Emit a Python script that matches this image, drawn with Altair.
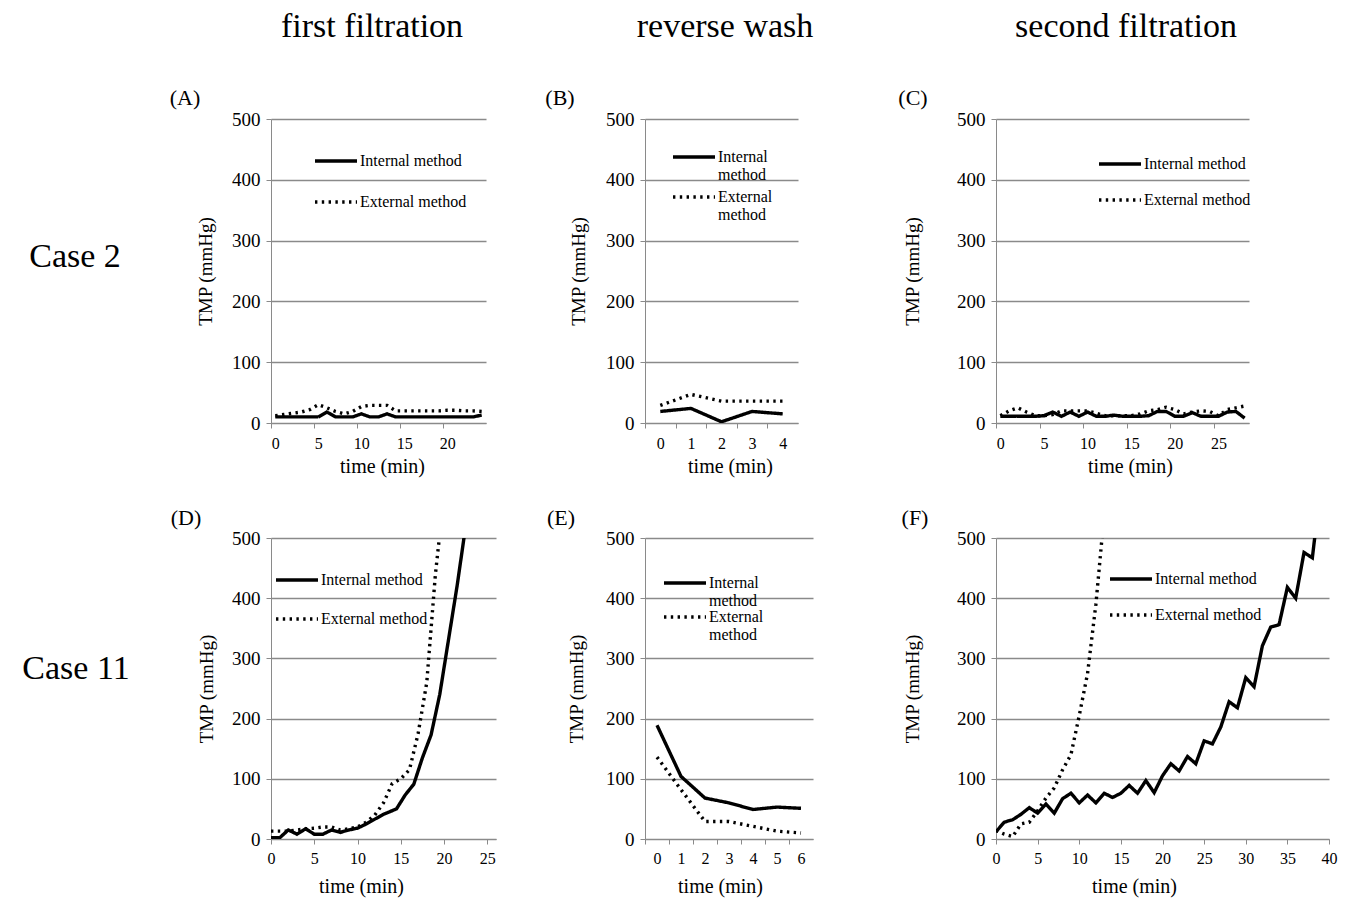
import altair as alt
import pandas as pd

FONT = "Liberation Serif"
GRID = "#8a8a8a"

# ---------------- data ----------------
# Case 2, first filtration (minutes 0..24)
a_t = list(range(25))
a_int = [10, 10, 10, 10, 10, 10, 18, 10, 10, 10, 15, 10, 10, 15, 10, 10, 10, 10, 10, 10, 10, 10, 10, 10, 13]
a_ext = [12, 14, 16, 18, 22, 30, 25, 19, 15, 19, 27, 29, 29, 29, 20, 20, 20, 20, 20, 20, 21, 21, 20, 20, 19]

# Case 2, reverse wash (minutes 0..4)
b_t = [0, 1, 2, 3, 4]
b_int = [19, 24, 2, 19, 15]
b_ext = [29, 47, 36, 36, 36]

# Case 2, second filtration (minutes 0..28)
c_t = list(range(29))
c_int = [11, 11, 11, 11, 11, 12, 18, 11, 18, 11, 18, 11, 11, 13, 11, 11, 11, 12, 19, 19, 11, 11, 17, 11, 11, 11, 18, 19, 8]
c_ext = [12, 20, 25, 18, 12, 12, 14, 20, 20, 20, 20, 16, 12, 12, 12, 12, 15, 20, 22, 26, 22, 15, 18, 20, 19, 12, 22, 25, 28]

# Case 11, first filtration
d_int_t = [0, 1, 2, 3, 4, 5, 6, 7, 8, 9, 10, 11, 12, 13, 14.5, 15.5, 16.5, 17.5, 18.5, 19.5, 20.5, 21.5, 22.5]
d_int = [2, 2, 15, 8, 17, 8, 8, 15, 11, 15, 18, 25, 33, 41, 50, 73, 91, 135, 173, 240, 330, 420, 520]
d_ext_t = [0, 1, 2, 3, 4, 5, 6, 7, 8, 9, 10, 11, 12, 13, 14, 15, 16, 17, 18, 19, 19.4]
d_ext = [13, 13, 13, 15, 17, 18, 20, 20, 15, 17, 20, 28, 40, 60, 92, 100, 115, 175, 260, 440, 493]

# Case 11, reverse wash (minutes 0..6)
e_t = [0, 1, 2, 3, 4, 5, 6]
e_int = [189, 104, 68, 60, 49, 53, 51]
e_ext = [136, 82, 29, 29, 21, 13, 10]

# Case 11, second filtration
f_int_t = list(range(40))
f_int = [12, 28, 32, 41, 52, 43, 58, 43, 67, 76, 60, 73, 60, 76, 69, 76, 89, 76, 97, 77,
         105, 125, 113, 137, 125, 163, 158, 186, 228, 218, 268, 253, 321, 352, 356, 418, 400, 476, 467, 585]
f_ext_t = list(range(14))
f_ext = [14, 8, 4, 25, 28, 47, 68, 85, 115, 140, 205, 275, 390, 540]

SERIES = ["Internal method", "External method"]
Y_TICKS = [0, 100, 200, 300, 400, 500]


def frame(t_int, v_int, t_ext, v_ext):
    rows = [{"t": t, "v": v, "method": SERIES[0]} for t, v in zip(t_int, v_int)]
    rows += [{"t": t, "v": v, "method": SERIES[1]} for t, v in zip(t_ext, v_ext)]
    return pd.DataFrame(rows)


def text_layer(txt, x, y, size, align="center"):
    return alt.Chart(pd.DataFrame({"txt": [txt]})).mark_text(
        font=FONT, fontSize=size, align=align, baseline="middle", color="black"
    ).encode(text="txt:N", x=alt.value(x), y=alt.value(y))


def panel(df, xdom, plot_w, chart_w, height, xvals, hide_above, cat_w,
          xtitle_x, xtitle_y, lab_pad, ytitle_x, leg_x, leg_y, leg_pad, wrap, notes):
    xaxis = dict(
        values=xvals, grid=False, title="time (min)", titleFont=FONT, titleFontSize=20,
        titleFontWeight="normal", titleColor="black", titleX=xtitle_x, titleY=xtitle_y,
        titleBaseline="middle", labelFont=FONT, labelFontSize=16, labelColor="black",
        domainColor=GRID, tickColor=GRID, tickSize=5, labelPadding=lab_pad, labelFlush=False,
        labelOverlap=False,
    )
    if hide_above is not None:
        xaxis["labelExpr"] = f"datum.value > {hide_above} ? '' : datum.label"
    if cat_w:
        xaxis["tickOffset"] = -cat_w / 2
        xaxis["labelOffset"] = cat_w / 2
    leg = dict(
        orient="none", legendX=leg_x, legendY=leg_y, title=None,
        symbolType="M-6,0H1", symbolSize=144, symbolStrokeWidth=3.3,
        symbolStrokeColor="black", labelFont=FONT, labelFontSize=16, labelColor="black",
        labelOffset=1, rowPadding=leg_pad, labelLimit=300,
    )
    if wrap:
        leg["labelExpr"] = "split(datum.label, ' ')"
    line = alt.Chart(df).mark_line(color="black", strokeWidth=3.4, clip=True).encode(
        x=alt.X("t:Q", scale=alt.Scale(domain=xdom, range=[0, plot_w], nice=False, zero=False),
                axis=alt.Axis(**xaxis)),
        y=alt.Y("v:Q", scale=alt.Scale(domain=[0, 500], nice=False),
                axis=alt.Axis(values=Y_TICKS, grid=True, gridColor=GRID, gridWidth=1.3,
                              domainColor=GRID, tickColor=GRID, tickSize=5,
                              labelFont=FONT, labelFontSize=19, labelColor="black",
                              labelPadding=6, title="TMP (mmHg)", titleFont=FONT,
                              titleFontSize=19, titleFontWeight="normal", titleColor="black",
                              titleX=ytitle_x, titleY=height / 2, titleBaseline="middle")),
        strokeDash=alt.StrokeDash("method:N",
                                  scale=alt.Scale(domain=SERIES, range=[[1, 0], [2.4, 4.4]]),
                                  legend=alt.Legend(**leg)),
    )
    layers = [line] + [text_layer(*n) for n in notes]
    return alt.layer(*layers).properties(width=chart_w, height=height)


H1, H2 = 304, 301

A = panel(frame(a_t, a_int, a_t, a_ext), [-0.5, 24.5], 215, 374, H1,
          [0, 5, 10, 15, 20, 25], 24, 215 / 25, 111, 43, 7, -66, 44 + 28, 34, 25, False,
          [("first filtration", 101, -92, 34), ("(A)", -86, -21, 22), ("Case 2", -196, 138, 34)])
B = panel(frame(b_t, b_int, b_t, b_ext), [-0.5, 4.5], 153, 351, H1,
          [0, 1, 2, 3, 4, 5], 4, 153 / 5, 85, 43, 7, -67, 28 + 28, 30, 6, True,
          [("reverse wash", 80, -92, 34), ("(B)", -85, -21, 22)])
C = panel(frame(c_t, c_int, c_t, c_ext), [-0.5, 28.5], 253, 253, H1,
          [0, 5, 10, 15, 20, 25, 29], 28, 253 / 29, 134, 43, 7, -84, 103 + 28, 37, 20, False,
          [("second filtration", 130, -92, 34), ("(C)", -83, -21, 22)])

D = panel(frame(d_int_t, d_int, d_ext_t, d_ext), [0, 26], 225, 374, H2,
          [0, 5, 10, 15, 20, 25], None, None, 90, 47, 6, -65, 5 + 28, 34, 23, False,
          [("(D)", -85, -20, 22), ("Case 11", -195, 131, 34)])
E = panel(frame(e_t, e_int, e_t, e_ext), [-0.5, 6.5], 168, 350, H2,
          [0, 1, 2, 3, 4, 5, 6, 7], 6, 168 / 7, 75, 47, 6, -69, 19 + 28, 37, 0, True,
          [("(E)", -84, -20, 22)])
F = panel(frame(f_int_t, f_int, f_ext_t, f_ext), [0, 40], 333, 333, H2,
          [0, 5, 10, 15, 20, 25, 30, 35, 40], None, None, 138, 47, 6, -84, 114 + 28, 33, 20, False,
          [("(F)", -81, -20, 22)])

chart = alt.concat(
    A, B, C, D, E, F, columns=3, bounds="flush", align="each",
    spacing={"row": 115, "column": 0},
).resolve_scale(x="independent", y="independent", strokeDash="independent").configure_view(
    stroke=None
).properties(
    padding={"left": 14, "top": 2, "right": 5, "bottom": 5}, background="white"
)

chart.save("out.html", embed_options={"renderer": "svg", "actions": False})
